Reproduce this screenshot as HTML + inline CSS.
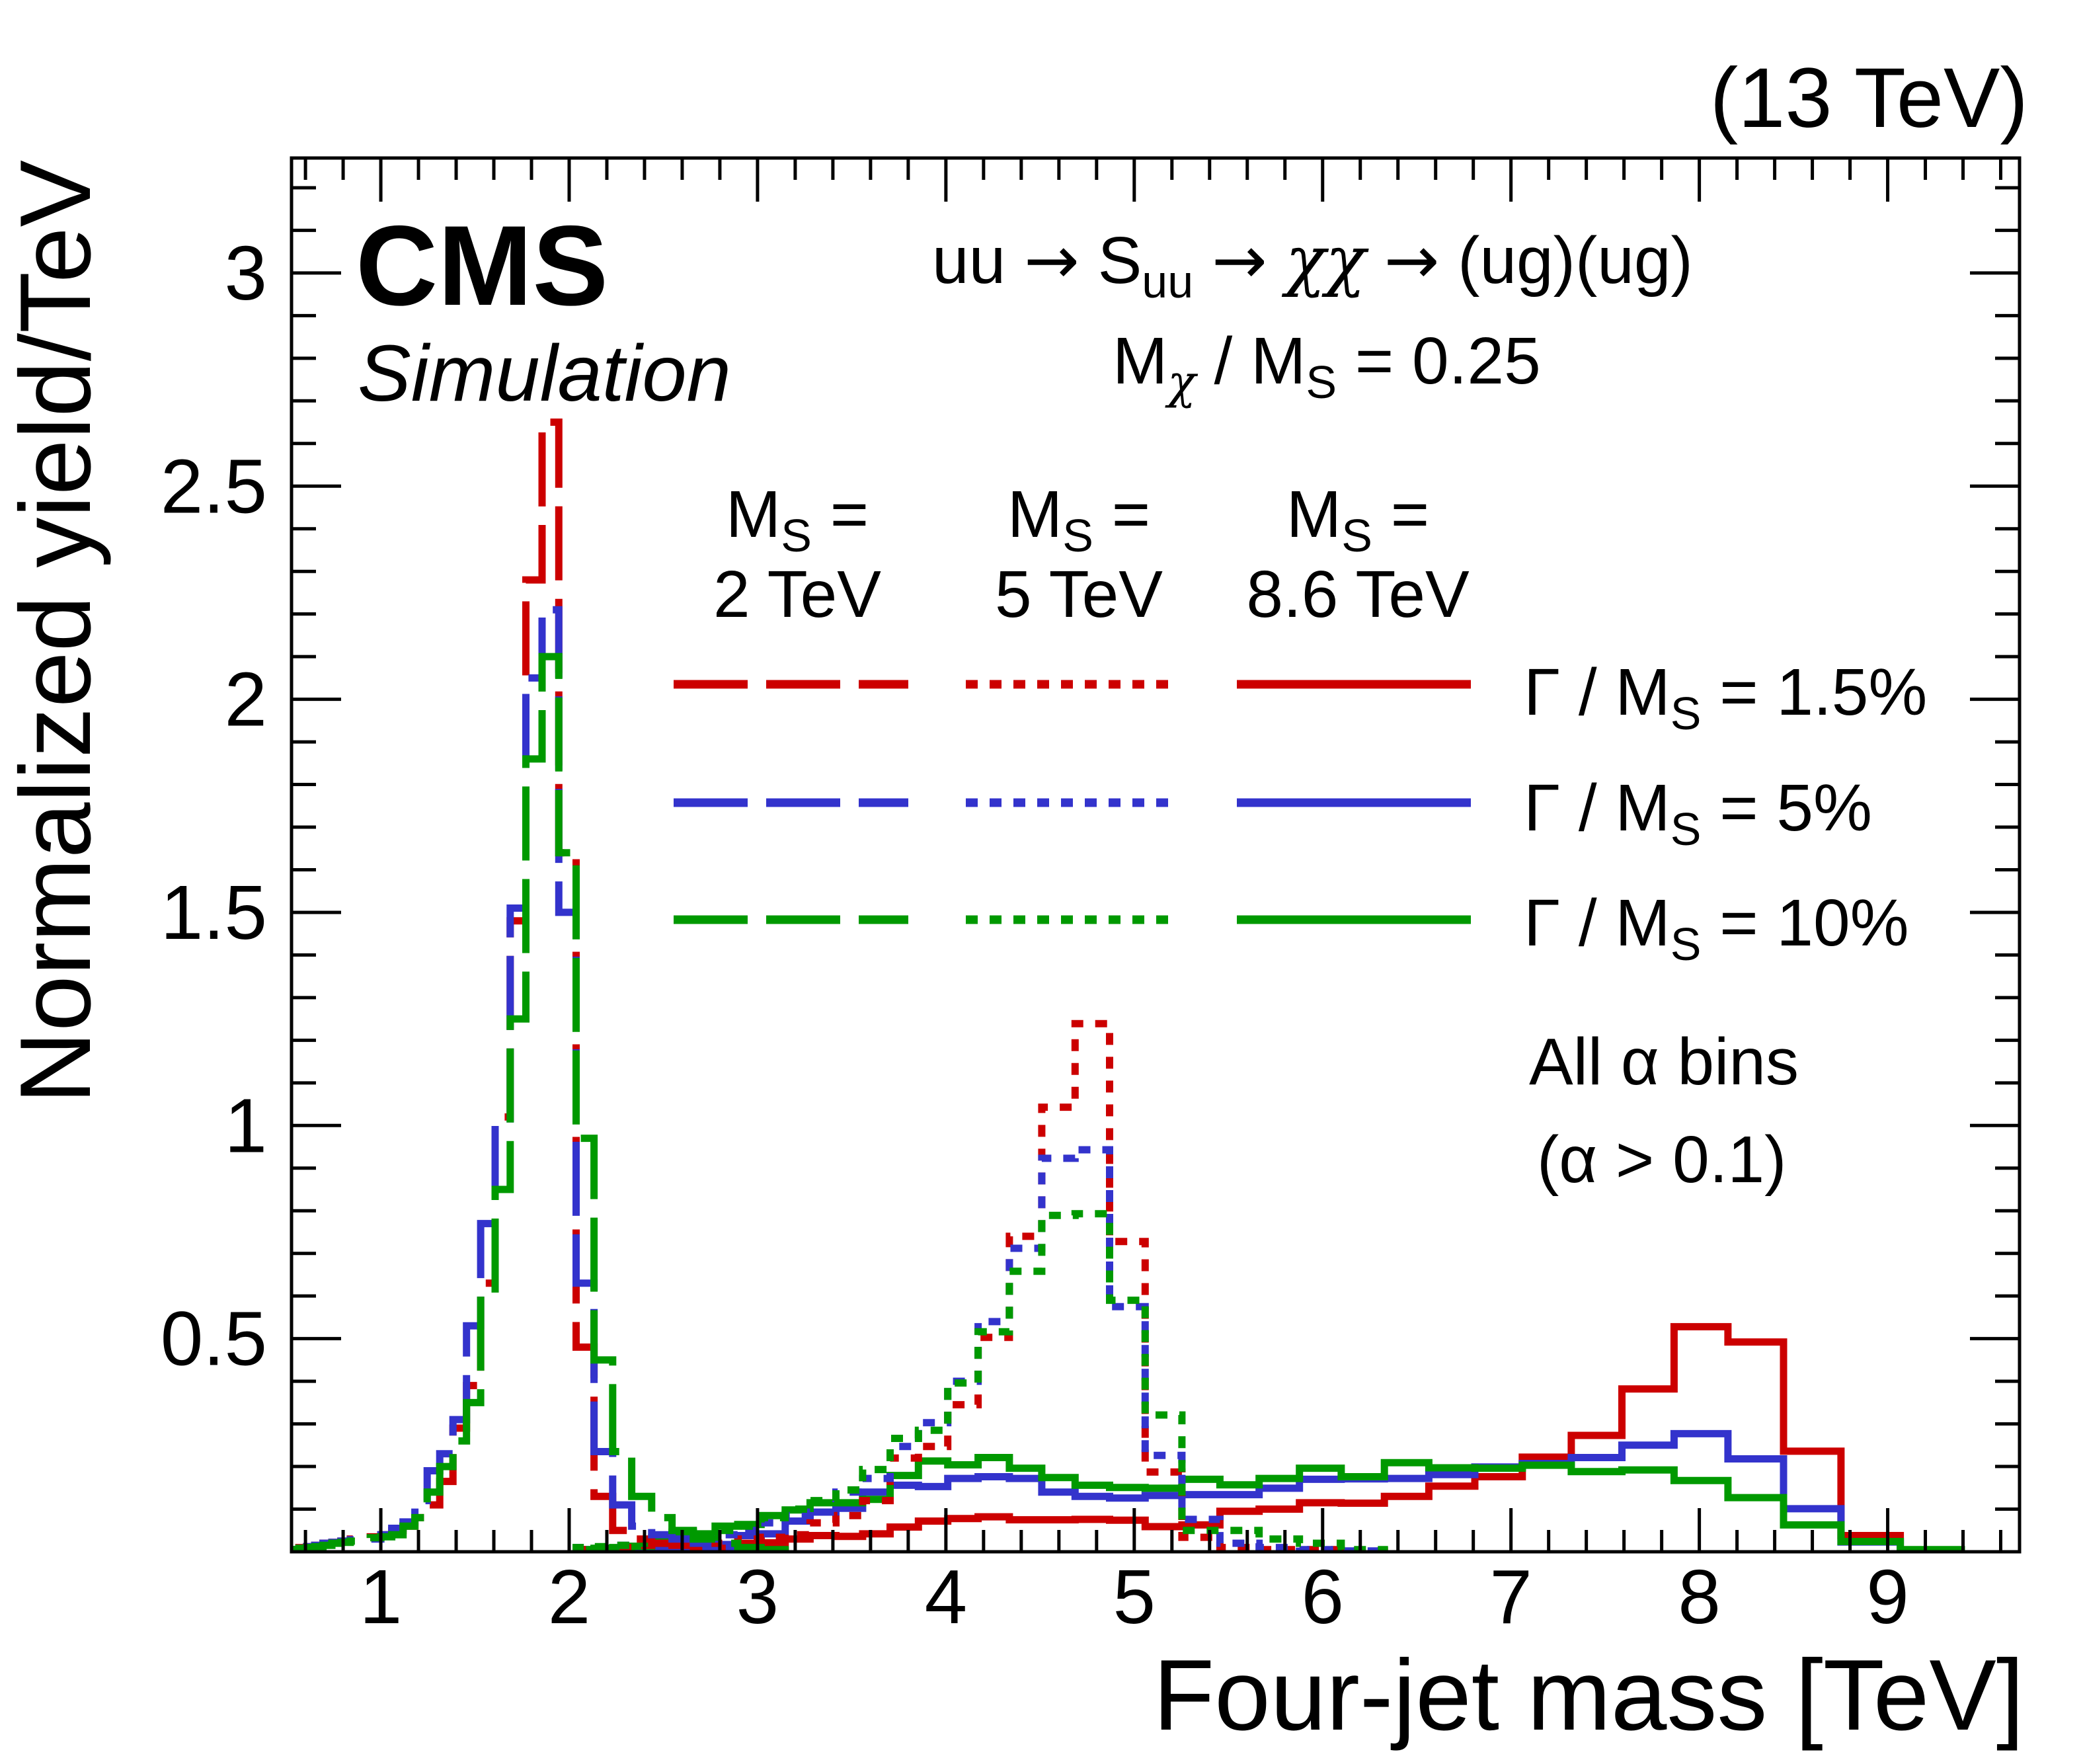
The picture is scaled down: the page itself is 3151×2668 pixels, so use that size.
<!DOCTYPE html>
<html><head><meta charset="utf-8"><style>
html,body{margin:0;padding:0;background:#fff}
svg{display:block}
text{font-family:"Liberation Sans",Arial,sans-serif;fill:#000}
.ar{font-family:"DejaVu Sans",sans-serif}
.chi{font-family:"DejaVu Serif",serif;font-style:italic}
</style></head><body>
<svg id="chart" xmlns="http://www.w3.org/2000/svg" width="3151" height="2668" viewBox="0 0 3151 2668">
<rect x="0" y="0" width="3151" height="2668" fill="#fff"/>
<defs><clipPath id="clip"><rect x="441" y="239" width="2614" height="2108"/></clipPath></defs>
<g id="hists" clip-path="url(#clip)"></g>
<g id="axes"></g>
<rect x="441" y="239" width="2614" height="2108" fill="none" stroke="#000" stroke-width="5"/>
<text x="3068" y="192" font-size="128" text-anchor="end">(13 TeV)</text>
<text x="538" y="461" font-size="172" font-weight="bold">CMS</text>
<text x="541" y="606" font-size="121" font-style="italic">Simulation</text>
<text transform="translate(136,242) rotate(-90)" font-size="152" text-anchor="end">Normalized yield/TeV</text>
<text x="3062" y="2616" font-size="152" text-anchor="end">Four-jet mass [TeV]</text>
<text x="1410" y="428" font-size="100">uu <tspan class="ar">→</tspan> S<tspan font-size="70" dy="22">uu</tspan><tspan dy="-22"> </tspan><tspan class="ar">→</tspan> <tspan class="chi">χχ</tspan> <tspan class="ar">→</tspan> (ug)(ug)</text>
<text x="1683" y="580" font-size="100">M<tspan font-size="70" dy="22" class="chi">χ</tspan><tspan dy="-22"> / M</tspan><tspan font-size="70" dy="22">S</tspan><tspan dy="-22"> = 0.25</tspan></text>
<g>
<text x="1206" y="812" font-size="100" text-anchor="middle">M<tspan font-size="70" dy="22">S</tspan><tspan dy="-22"> =</tspan></text>
<text x="1206" y="933" font-size="100" text-anchor="middle">2 TeV</text>
<text x="1632" y="812" font-size="100" text-anchor="middle">M<tspan font-size="70" dy="22">S</tspan><tspan dy="-22"> =</tspan></text>
<text x="1632" y="933" font-size="100" text-anchor="middle">5 TeV</text>
<text x="2054" y="812" font-size="100" text-anchor="middle">M<tspan font-size="70" dy="22">S</tspan><tspan dy="-22"> =</tspan></text>
<text x="2054" y="933" font-size="100" text-anchor="middle">8.6 TeV</text>
<g id="legendLines"></g>
<text x="2305" y="1081" font-size="100">Γ / M<tspan font-size="70" dy="22">S</tspan><tspan dy="-22"> = 1.5%</tspan></text>
<text x="2305" y="1256" font-size="100">Γ / M<tspan font-size="70" dy="22">S</tspan><tspan dy="-22"> = 5%</tspan></text>
<text x="2305" y="1430" font-size="100">Γ / M<tspan font-size="70" dy="22">S</tspan><tspan dy="-22"> = 10%</tspan></text>
</g>
<text x="2313" y="1640" font-size="100">All α bins</text>
<text x="2325" y="1788" font-size="100">(α &gt; 0.1)</text>
</svg>
<script>
const binEdges=[0.526,0.565,0.606,0.649,0.693,0.740,0.788,0.838,0.890,0.944,1.000,1.058,1.118,1.181,1.246,1.313,1.383,1.455,1.530,1.607,1.687,1.770,1.856,1.945,2.037,2.132,2.231,2.332,2.438,2.546,2.659,2.775,2.895,3.019,3.147,3.279,3.416,3.558,3.704,3.854,4.010,4.171,4.337,4.509,4.686,4.869,5.058,5.253,5.455,5.663,5.877,6.099,6.328,6.564,6.808,7.060,7.320,7.589,7.866,8.152,8.447,8.752,9.067,9.391];
const xTickLabels=["1","2","3","4","5","6","7","8","9"];
const yTickLabels=["0.5","1","1.5","2","2.5","3"];
// 2 TeV (start bin 0)
const m2_w15=[0.005,0.01,0.012,0.015,0.02,0.022,0.025,0.03,0.03,0.035,0.04,0.05,0.06,0.08,0.11,0.165,0.29,0.39,0.63,1.02,1.48,2.28,2.65,1.64,0.48,0.13,0.05,0.03,0.02,0.015,0.01,0.008,0.005,0.003];
const m2_w5=[0.005,0.008,0.012,0.015,0.02,0.022,0.025,0.028,0.03,0.03,0.04,0.055,0.07,0.12,0.19,0.23,0.31,0.53,0.77,1.0,1.51,2.05,2.21,1.50,0.63,0.235,0.11,0.06,0.04,0.03,0.02,0.01,0.005,0.003];
const m2_w10=[0.005,0.008,0.01,0.012,0.015,0.02,0.022,0.025,0.03,0.033,0.035,0.04,0.06,0.08,0.14,0.20,0.26,0.35,0.60,0.85,1.25,1.86,2.10,1.64,0.97,0.45,0.235,0.13,0.08,0.05,0.03,0.02,0.01,0.005];
// 5 TeV (start bin 24)
const m5_w15=[0.005,0.008,0.01,0.015,0.02,0.02,0.02,0.02,0.03,0.034,0.04,0.068,0.085,0.12,0.22,0.247,0.345,0.503,0.74,1.043,1.239,0.728,0.187,0.034,0.01,0.005,0.005,0.002];
const m5_w5=[0.01,0.01,0.015,0.02,0.02,0.03,0.03,0.04,0.05,0.068,0.085,0.093,0.14,0.172,0.247,0.303,0.40,0.54,0.712,0.923,0.943,0.575,0.226,0.076,0.02,0.01,0.005,0.002];
const m5_w10=[0.01,0.012,0.015,0.02,0.025,0.03,0.04,0.05,0.06,0.08,0.10,0.12,0.145,0.193,0.266,0.285,0.396,0.516,0.658,0.789,0.793,0.59,0.321,0.05,0.05,0.03,0.02,0.005];
// 8.6 TeV (start bin 24)
const m86_w15=[0.003,0.004,0.005,0.005,0.006,0.007,0.008,0.01,0.02,0.021,0.03,0.038,0.036,0.042,0.058,0.072,0.078,0.082,0.075,0.075,0.076,0.074,0.059,0.063,0.095,0.10,0.115,0.114,0.13,0.154,0.176,0.222,0.273,0.382,0.528,0.492,0.236,0.038,0.003];
const m86_w5=[0.005,0.006,0.007,0.008,0.01,0.01,0.012,0.017,0.038,0.042,0.072,0.093,0.102,0.14,0.156,0.153,0.172,0.176,0.172,0.14,0.13,0.126,0.132,0.134,0.134,0.149,0.17,0.171,0.172,0.181,0.199,0.207,0.221,0.25,0.277,0.218,0.101,0.023,0.003];
const m86_w10=[0.005,0.008,0.01,0.013,0.034,0.046,0.042,0.06,0.064,0.085,0.098,0.115,0.115,0.123,0.179,0.213,0.204,0.221,0.196,0.174,0.156,0.151,0.149,0.170,0.157,0.172,0.196,0.176,0.209,0.197,0.196,0.203,0.188,0.192,0.167,0.127,0.063,0.024,0.005];

const X0=441,X1=3055,Y0=2347,Y1=239,XMIN=0.526,XMAX=9.7,YMAX=(2347-239)/644.7;
function sx(v){return X0+(v-XMIN)/(XMAX-XMIN)*(X1-X0);}
function sy(v){return Y0-v/YMAX*(Y0-Y1);}
const NS="http://www.w3.org/2000/svg";
const RED="#cc0000",BLUE="#3333cc",GREEN="#009900";
const DASH="112 28",DOT="18 18";
const hg=document.getElementById('hists');
function hist(vals,start,color,dash,name){
  let d="M"+sx(binEdges[start]).toFixed(1)+","+sy(0).toFixed(1);
  for(let i=0;i<vals.length;i++){
    const a=sx(binEdges[start+i]),b=sx(binEdges[start+i+1]),y=sy(vals[i]);
    d+=" L"+a.toFixed(1)+","+y.toFixed(1)+" L"+b.toFixed(1)+","+y.toFixed(1);
  }
  d+=" L"+sx(binEdges[start+vals.length]).toFixed(1)+","+sy(0).toFixed(1);
  const p=document.createElementNS(NS,'path');
  p.setAttribute('d',d);p.setAttribute('fill','none');p.setAttribute('stroke',color);
  p.setAttribute('stroke-width','11');p.setAttribute('stroke-linejoin','miter');
  if(dash)p.setAttribute('stroke-dasharray',dash);
  
  
  hg.appendChild(p);
}
hist(m86_w15,24,RED,null,'hist-8p6tev-width-1p5');
hist(m86_w5,24,BLUE,null,'hist-8p6tev-width-5');
hist(m86_w10,24,GREEN,null,'hist-8p6tev-width-10');
hist(m5_w15,24,RED,DOT,'hist-5tev-width-1p5');
hist(m5_w5,24,BLUE,DOT,'hist-5tev-width-5');
hist(m5_w10,24,GREEN,DOT,'hist-5tev-width-10');
hist(m2_w15,0,RED,DASH,'hist-2tev-width-1p5');
hist(m2_w5,0,BLUE,DASH,'hist-2tev-width-5');
hist(m2_w10,0,GREEN,DASH,'hist-2tev-width-10');

const ax=document.getElementById('axes');
function line(x1,y1,x2,y2,name){
  const l=document.createElementNS(NS,'line');
  l.setAttribute('x1',x1);l.setAttribute('y1',y1);l.setAttribute('x2',x2);l.setAttribute('y2',y2);
  l.setAttribute('stroke','#000');l.setAttribute('stroke-width','5');
  
  
  ax.appendChild(l);
}
function txt(x,y,s,anchor,size,name){
  const t=document.createElementNS(NS,'text');
  t.setAttribute('x',x);t.setAttribute('y',y);t.setAttribute('font-size',size);t.setAttribute('text-anchor',anchor);
  t.textContent=s;
  
  
  ax.appendChild(t);
}
for(let k=3;k<=48;k++){
  const v=k*0.2; if(v<XMIN||v>XMAX)continue;
  const x=sx(v), major=(k%5===0), L=major?66:33;
  line(x,Y0,x,Y0-L,'x-tick');
  line(x,Y1,x,Y1+L,'x-tick-top');
}
xTickLabels.forEach(function(s){const v=parseFloat(s);txt(sx(v),2455,s,'middle',116,'x-tick-label');});
for(let k=1;k<=32;k++){
  const v=k*0.1, y=sy(v), major=(k%5===0), L=major?75:37;
  line(X0,y,X0+L,y,'y-tick');
  line(X1,y,X1-L,y,'y-tick-right');
}
yTickLabels.forEach(function(s){const v=parseFloat(s);txt(404,sy(v)+40,s,'end',116,'y-tick-label');});

const lg=document.getElementById('legendLines');
const legRows=[[1035,RED],[1214,BLUE],[1391,GREEN]];
const legCols=[[1019,1374,DASH],[1461,1779,DOT],[1871,2225,null]];
legRows.forEach(function(r){legCols.forEach(function(c){
  const l=document.createElementNS(NS,'line');
  l.setAttribute('x1',c[0]);l.setAttribute('x2',c[1]);l.setAttribute('y1',r[0]);l.setAttribute('y2',r[0]);
  l.setAttribute('stroke',r[1]);l.setAttribute('stroke-width','13');
  if(c[2])l.setAttribute('stroke-dasharray',c[2]);
  
  
  lg.appendChild(l);
});});
</script>
</body></html>
